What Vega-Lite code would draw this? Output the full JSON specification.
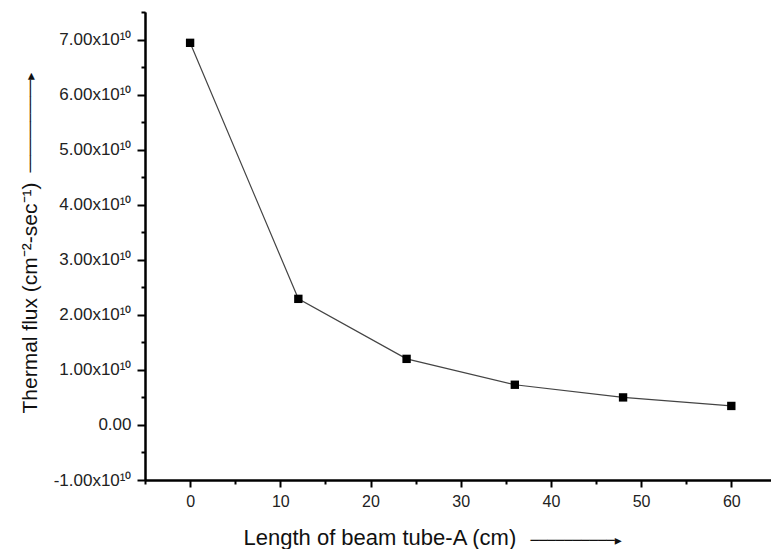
{
  "$schema": "https://vega.github.io/schema/vega-lite/v6.json",
  "width": 626,
  "height": 468,
  "autosize": {"type": "none"},
  "padding": {"left": 145, "top": 12, "right": 0, "bottom": 69},
  "background": "white",
  "config": {
    "view": {"stroke": null},
    "font": "Liberation Sans",
    "axis": {
      "grid": false,
      "domainColor": "#000",
      "domainWidth": 2,
      "tickColor": "#000",
      "tickWidth": 2,
      "labelColor": "#222",
      "titleColor": "#111",
      "labelFont": "Liberation Sans",
      "titleFont": "Liberation Sans",
      "titleFontWeight": "normal"
    }
  },
  "data": {
    "values": [
      {"length": 0, "flux": 6.94e10},
      {"length": 12, "flux": 2.29e10},
      {"length": 24, "flux": 1.2e10},
      {"length": 36, "flux": 0.73e10},
      {"length": 48, "flux": 0.5e10},
      {"length": 60, "flux": 0.345e10}
    ]
  },
  "resolve": {"axis": {"x": "independent", "y": "independent"}},
  "layer": [
    {
      "mark": {"type": "line", "color": "#444", "strokeWidth": 1.2},
      "encoding": {
        "x": {
          "field": "length", "type": "quantitative",
          "scale": {"domain": [-5, 64.4], "nice": false, "zero": false},
          "axis": {
            "orient": "bottom",
            "values": [0, 10, 20, 30, 40, 50, 60],
            "tickSize": 7,
            "labelFontSize": 16,
            "labelPadding": 6,
            "title": "Length of beam tube-A (cm)",
            "titleFontSize": 22,
            "titleAlign": "left",
            "titleBaseline": "alphabetic",
            "titleX": 98,
            "titleY": 64
          }
        },
        "y": {
          "field": "flux", "type": "quantitative",
          "scale": {"domain": [-1e10, 7.5e10], "nice": false, "zero": false},
          "axis": {
            "orient": "left",
            "values": [-1e10, 0, 1e10, 2e10, 3e10, 4e10, 5e10, 6e10, 7e10],
            "tickSize": 8,
            "labelFontSize": 17,
            "labelPadding": 6,
            "labelExpr": "datum.value == 0 ? '0.00' : (datum.value < 0 ? '-' : '') + format(abs(datum.value) / 1e10, '.2f') + 'x10¹⁰'",
            "title": "Thermal flux (cm⁻²-sec⁻¹)",
            "titleFontSize": 21,
            "titleAngle": 270,
            "titleAlign": "left",
            "titleBaseline": "alphabetic",
            "titleX": -109,
            "titleY": 401
          }
        }
      }
    },
    {
      "mark": {"type": "square", "size": 70, "color": "#000", "opacity": 1},
      "encoding": {
        "x": {
          "field": "length", "type": "quantitative",
          "axis": {
            "orient": "bottom",
            "values": [-5, 5, 15, 25, 35, 45, 55],
            "tickSize": 4,
            "labels": false,
            "title": "──────────▸",
            "titleFont": "DejaVu Sans",
            "titleFontSize": 14,
            "titleColor": "#111",
            "titleAlign": "left",
            "titleBaseline": "alphabetic",
            "titleX": 385,
            "titleY": 64
          }
        },
        "y": {
          "field": "flux", "type": "quantitative",
          "axis": {
            "orient": "left",
            "values": [-0.5e10, 0.5e10, 1.5e10, 2.5e10, 3.5e10, 4.5e10, 5.5e10, 6.5e10, 7.5e10],
            "tickSize": 4,
            "labels": false,
            "title": "───────────▸",
            "titleFont": "DejaVu Sans",
            "titleFontSize": 14,
            "titleColor": "#111",
            "titleAngle": 270,
            "titleAlign": "left",
            "titleBaseline": "alphabetic",
            "titleX": -111,
            "titleY": 160
          }
        }
      }
    }
  ]
}
